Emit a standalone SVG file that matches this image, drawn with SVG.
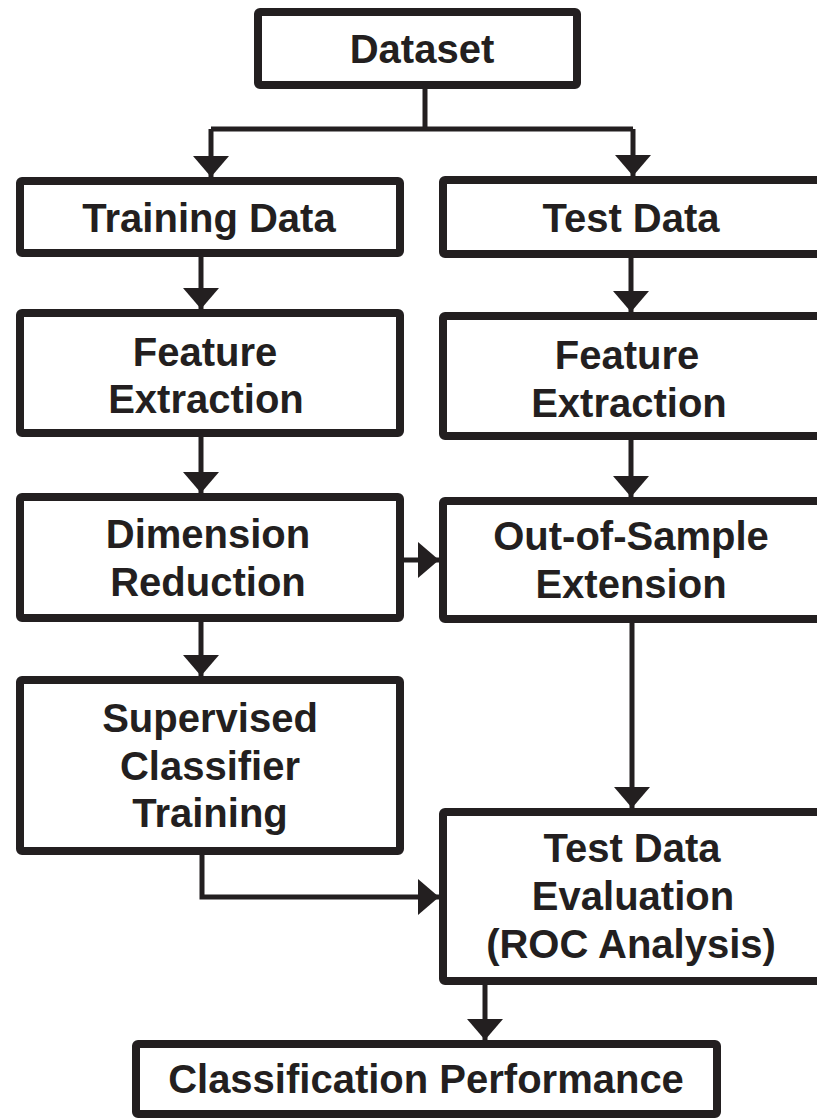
<svg xmlns="http://www.w3.org/2000/svg" width="817" height="1118" viewBox="0 0 817 1118">
  <style>
    .box { fill: #ffffff; stroke: #231f20; stroke-width: 8; }
    .lbl { font-family: "Liberation Sans", Arial, sans-serif; font-weight: bold; font-size: 40px; fill: #231f20; text-anchor: middle; }
    .conn { fill: none; stroke: #231f20; stroke-width: 5; }
  </style>
  <defs>
    <marker id="arr" markerUnits="userSpaceOnUse" markerWidth="22" markerHeight="36" refX="21" refY="18" orient="auto">
      <path d="M0,0 L21,18 L0,36 Z" fill="#231f20"/>
    </marker>
  </defs>
  <rect width="817" height="1118" fill="#ffffff"/>

  <g id="connectors">
    <path class="conn" d="M425,89 V129"/>
    <path class="conn" d="M211,129 H633"/>
    <path class="conn" d="M211,129 V177" marker-end="url(#arr)"/>
    <path class="conn" d="M633,129 V176" marker-end="url(#arr)"/>
    <path class="conn" d="M201,257 V309" marker-end="url(#arr)"/>
    <path class="conn" d="M631,258 V312" marker-end="url(#arr)"/>
    <path class="conn" d="M201,437 V493" marker-end="url(#arr)"/>
    <path class="conn" d="M631,440 V497" marker-end="url(#arr)"/>
    <path class="conn" d="M404,560 H439" marker-end="url(#arr)"/>
    <path class="conn" d="M201,622 V676" marker-end="url(#arr)"/>
    <path class="conn" d="M632,623 V808" marker-end="url(#arr)"/>
    <path class="conn" d="M202,855 V897 H439" marker-end="url(#arr)"/>
    <path class="conn" d="M485,985 V1040" marker-end="url(#arr)"/>
  </g>

  <g id="dataset">
    <rect class="box" x="258" y="12" width="319" height="73" rx="2"/>
    <text class="lbl" x="422" y="63">Dataset</text>
  </g>
  <g id="training-data">
    <rect class="box" x="20" y="181" width="380" height="72" rx="2"/>
    <text class="lbl" x="209" y="232">Training Data</text>
  </g>
  <g id="test-data">
    <rect class="box" x="443" y="180" width="400" height="74" rx="2"/>
    <text class="lbl" x="631" y="232">Test Data</text>
  </g>
  <g id="feature-extraction-train">
    <rect class="box" x="20" y="313" width="380" height="120" rx="2"/>
    <text class="lbl" x="205" y="366">Feature</text>
    <text class="lbl" x="206" y="413">Extraction</text>
  </g>
  <g id="feature-extraction-test">
    <rect class="box" x="443" y="316" width="400" height="120" rx="2"/>
    <text class="lbl" x="627" y="369">Feature</text>
    <text class="lbl" x="629" y="417">Extraction</text>
  </g>
  <g id="dimension-reduction">
    <rect class="box" x="20" y="497" width="380" height="121" rx="2"/>
    <text class="lbl" x="208" y="548">Dimension</text>
    <text class="lbl" x="208" y="596">Reduction</text>
  </g>
  <g id="out-of-sample">
    <rect class="box" x="443" y="501" width="400" height="118" rx="2"/>
    <text class="lbl" x="631" y="550">Out-of-Sample</text>
    <text class="lbl" x="631" y="598">Extension</text>
  </g>
  <g id="supervised-training">
    <rect class="box" x="20" y="680" width="380" height="171" rx="2"/>
    <text class="lbl" x="210" y="732">Supervised</text>
    <text class="lbl" x="210" y="780">Classifier</text>
    <text class="lbl" x="210" y="827">Training</text>
  </g>
  <g id="test-evaluation">
    <rect class="box" x="443" y="812" width="400" height="169" rx="2"/>
    <text class="lbl" x="632" y="862">Test Data</text>
    <text class="lbl" x="633" y="910">Evaluation</text>
    <text class="lbl" x="631" y="958">(ROC Analysis)</text>
  </g>
  <g id="classification-performance">
    <rect class="box" x="136" y="1044" width="581" height="70" rx="2"/>
    <text class="lbl" x="426" y="1093">Classification Performance</text>
  </g>
</svg>
